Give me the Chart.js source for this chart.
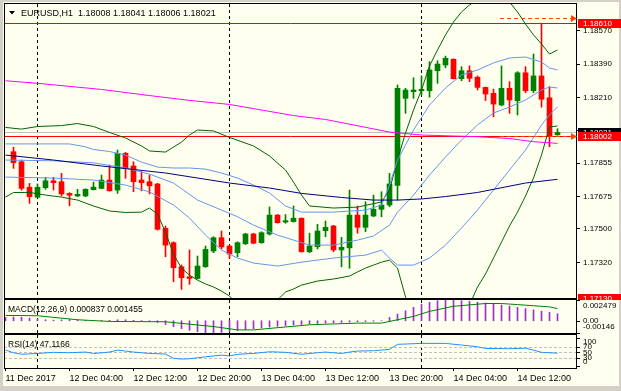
<!DOCTYPE html>
<html>
<head>
<meta charset="utf-8">
<title>EURUSD,H1</title>
<script src="https://cdn.jsdelivr.net/npm/chart.js@4.4.1/dist/chart.umd.min.js"></script>
<style>
  html, body { margin: 0; padding: 0; }
  body { width: 621px; height: 391px; background: #d4d0c8; position: relative; overflow: hidden; }
  #win { position: absolute; left: 3px; top: 2px; width: 616px; height: 384px; background: #fffff0; }
  canvas { position: absolute; left: 0; }
</style>
</head>
<body>
<div id="win"></div>
<canvas id="priceChart" width="621" height="300" style="top:0"></canvas>
<canvas id="macdChart" width="621" height="40" style="top:296px"></canvas>
<canvas id="rsiChart" width="621" height="60" style="top:331px"></canvas>
<script>
const FONT = '"Liberation Sans", Arial, sans-serif';

// H1 candles, bar 0 = 11 Dec 21:00, bar 68 = 14 Dec 17:00
const opens = [1.17917, 1.17863, 1.17725, 1.17671, 1.17723, 1.17760, 1.17755, 1.17692, 1.17678, 1.17678,
  1.17712, 1.17719, 1.17764, 1.17710, 1.17908, 1.17840, 1.17764, 1.17755, 1.17743, 1.17503,
  1.17426, 1.17296, 1.17242, 1.17233, 1.17296, 1.17381, 1.17453, 1.17408, 1.17372, 1.17420,
  1.17473, 1.17426, 1.17473, 1.17575, 1.17537, 1.17540, 1.17558, 1.17377, 1.17404, 1.17491,
  1.17516, 1.17387, 1.17398, 1.17575, 1.17509, 1.17570, 1.17606, 1.17629, 1.17735, 1.18205,
  1.18241, 1.18246, 1.18246, 1.18354, 1.18385, 1.18416, 1.18311, 1.18354, 1.18319, 1.18264,
  1.18232, 1.18169, 1.18259, 1.18192, 1.18343, 1.18246, 1.18326, 1.18208, 1.18008];
const highs = [1.17941, 1.17872, 1.17746, 1.17743, 1.17779, 1.17779, 1.17800, 1.17696, 1.17714, 1.17717,
  1.17753, 1.17791, 1.17845, 1.17926, 1.17914, 1.17863, 1.17809, 1.17791, 1.17746, 1.17516,
  1.17431, 1.17306, 1.17387, 1.17354, 1.17408, 1.17458, 1.17489, 1.17413, 1.17431, 1.17477,
  1.17477, 1.17485, 1.17619, 1.17578, 1.17578, 1.17624, 1.17560, 1.17477, 1.17525, 1.17543,
  1.17520, 1.17455, 1.17710, 1.17624, 1.17647, 1.17683, 1.17701, 1.17800, 1.18277, 1.18259,
  1.18316, 1.18326, 1.18403, 1.18408, 1.18433, 1.18418, 1.18376, 1.18380, 1.18326, 1.18266,
  1.18255, 1.18380, 1.18295, 1.18349, 1.18376, 1.18444, 1.18610, 1.18268, 1.18041];
const lows = [1.17827, 1.17710, 1.17638, 1.17668, 1.17714, 1.17710, 1.17678, 1.17625, 1.17674, 1.17674,
  1.17710, 1.17717, 1.17704, 1.17692, 1.17773, 1.17701, 1.17706, 1.17689, 1.17494, 1.17350,
  1.17215, 1.17174, 1.17201, 1.17230, 1.17293, 1.17372, 1.17392, 1.17341, 1.17350, 1.17416,
  1.17420, 1.17423, 1.17467, 1.17531, 1.17531, 1.17537, 1.17375, 1.17372, 1.17392, 1.17458,
  1.17377, 1.17296, 1.17288, 1.17477, 1.17485, 1.17566, 1.17566, 1.17620, 1.17656, 1.18124,
  1.18205, 1.18223, 1.18211, 1.18286, 1.18370, 1.18309, 1.18300, 1.18295, 1.18250, 1.18193,
  1.18106, 1.18164, 1.18124, 1.18115, 1.18235, 1.18235, 1.18157, 1.17944, 1.18006];
const closes = [1.17858, 1.17719, 1.17674, 1.17725, 1.17760, 1.17750, 1.17689, 1.17682, 1.17687, 1.17714,
  1.17726, 1.17764, 1.17706, 1.17908, 1.17827, 1.17755, 1.17750, 1.17733, 1.17498, 1.17413,
  1.17291, 1.17237, 1.17233, 1.17300, 1.17390, 1.17453, 1.17403, 1.17365, 1.17426, 1.17473,
  1.17423, 1.17480, 1.17575, 1.17534, 1.17545, 1.17558, 1.17377, 1.17408, 1.17489, 1.17509,
  1.17387, 1.17401, 1.17575, 1.17509, 1.17575, 1.17606, 1.17629, 1.17743, 1.18259, 1.18250,
  1.18250, 1.18254, 1.18358, 1.18390, 1.18421, 1.18311, 1.18354, 1.18313, 1.18264, 1.18228,
  1.18174, 1.18259, 1.18196, 1.18343, 1.18246, 1.18326, 1.18200, 1.18000, 1.18021];

// indicator lines on the price chart, [bar, price]
const bandOuterUpper = [[-1, 1.18048], [1, 1.18039], [3, 1.18053], [6, 1.18058], [8, 1.18069], [10, 1.18053],
  [12, 1.18021], [14, 1.17991], [16, 1.17948], [17, 1.17921], [19, 1.17915], [21, 1.17969], [22, 1.18007],
  [23, 1.18034], [25, 1.18029], [27, 1.17994], [30, 1.17948], [32, 1.17894], [34, 1.17818], [35, 1.17753],
  [36, 1.17683], [37, 1.17624], [40, 1.17613], [43, 1.17618], [46, 1.17646], [47, 1.17710], [48, 1.17872],
  [49, 1.18018], [50, 1.18142], [51, 1.18250], [52, 1.18380], [53, 1.18466], [54, 1.18547], [55, 1.18617],
  [56, 1.18671], [57, 1.18709], [58, 1.18736], [59, 1.18757], [60, 1.18763], [61, 1.18752], [62, 1.18725],
  [63, 1.18671], [64, 1.18606], [65, 1.18547], [66, 1.18498], [67, 1.18444], [68, 1.18466]];
const bandOuterLower = [[-1, 1.17672], [0, 1.17697], [2, 1.17697], [4, 1.17683], [6, 1.17672], [8, 1.17656],
  [10, 1.17624], [12, 1.17597], [14, 1.17589], [16, 1.17591], [17, 1.17613], [18, 1.17580], [19, 1.17483],
  [20, 1.17364], [21, 1.17289], [22, 1.17251], [23, 1.17224], [24, 1.17203], [25, 1.17187], [26, 1.17165],
  [27, 1.17138], [28, 1.17090], [30, 1.17063], [32, 1.17090], [33, 1.17117], [34, 1.17160], [35, 1.17176],
  [36, 1.17197], [38, 1.17219], [40, 1.17230], [42, 1.17246], [43, 1.17268], [44, 1.17289], [45, 1.17305],
  [46, 1.17321], [47, 1.17332], [48, 1.17289], [49, 1.17133], [50, 1.17009], [55, 1.16955], [57, 1.17090],
  [58, 1.17187], [59, 1.17257], [60, 1.17343], [61, 1.17429], [62, 1.17516], [63, 1.17591], [64, 1.17678],
  [65, 1.17775], [66, 1.17899], [67, 1.18050], [68, 1.18056]];
const bandInnerUpper = [[-1, 1.17959], [3, 1.17959], [7, 1.17959], [9, 1.17943], [10, 1.17929], [12, 1.17918],
  [14, 1.17899], [16, 1.17861], [18, 1.17834], [20, 1.17829], [22, 1.17829], [24, 1.17823], [26, 1.17802],
  [28, 1.17775], [30, 1.17737], [32, 1.17694], [34, 1.17624], [36, 1.17591], [40, 1.17591], [44, 1.17602],
  [46, 1.17629], [47, 1.17737], [48, 1.17872], [49, 1.17953], [50, 1.18034], [52, 1.18169], [54, 1.18261],
  [56, 1.18331], [58, 1.18358], [60, 1.18396], [62, 1.18423], [64, 1.18428], [66, 1.18401], [67, 1.18369],
  [68, 1.18358]];
const bandMiddle = [[-1, 1.17872], [5, 1.17868], [10, 1.17857], [14, 1.17829], [17, 1.17796], [20, 1.17748],
  [23, 1.17656], [26, 1.17602], [28, 1.17566], [30, 1.17521], [33, 1.17467], [35, 1.17440], [37, 1.17413],
  [40, 1.17413], [43, 1.17440], [45, 1.17462], [47, 1.17521], [48, 1.17591], [50, 1.17683], [52, 1.17791],
  [54, 1.17888], [56, 1.17980], [58, 1.18061], [60, 1.18126], [62, 1.18158], [64, 1.18196], [66, 1.18250],
  [67, 1.18266], [68, 1.18261]];
const bandInnerLower = [[-1, 1.17780], [5, 1.17775], [10, 1.17764], [14, 1.17737], [17, 1.17700], [20, 1.17629],
  [22, 1.17559], [24, 1.17467], [26, 1.17386], [28, 1.17343], [30, 1.17316], [33, 1.17300], [36, 1.17321],
  [38, 1.17332], [40, 1.17343], [44, 1.17359], [46, 1.17386], [47, 1.17343], [48, 1.17305], [50, 1.17305],
  [52, 1.17343], [54, 1.17413], [56, 1.17505], [58, 1.17602], [60, 1.17710], [62, 1.17818], [64, 1.17926],
  [66, 1.18061], [67, 1.18115], [68, 1.18159]];
const maNavy = [[-1, 1.17899], [5, 1.17872], [11, 1.17840], [19, 1.17802], [27, 1.17748], [32, 1.17721],
  [36, 1.17692], [41, 1.17670], [45, 1.17656], [48, 1.17656], [51, 1.17662], [54, 1.17675], [58, 1.17697],
  [64, 1.17748], [68, 1.17768]];
const maMagenta = [[-1, 1.18300], [3, 1.18286], [11, 1.18253], [17, 1.18220], [22, 1.18194], [27, 1.18172],
  [35, 1.18112], [39, 1.18091], [47, 1.18023], [51, 1.18007], [58, 1.17998], [62, 1.17988], [65, 1.17971],
  [68, 1.17962]];

const priceTicks = [1.17320, 1.17500, 1.17675, 1.17855, 1.18032, 1.18210, 1.18390, 1.18570];
const levelLines = [1.18610, 1.18002, 1.17130];
const bidPrice = 1.18021;
const alertLevels = [1.18640, 1.18002];

// MACD(12,26,9): histogram for bars -1..68, signal as [bar, value]
const macdHist = [0.00040, 0.00045, 0.00042, 0.00032, 0.00022,
  0.00012, 0.00008, 0.00010, 0.00014, 0.00010, 0.00006, 0.00004, 0.00004, 0.00006, 0.00012, 0.00012, 0.00006, 0.00002, -0.00004,
  -0.00020, -0.00045, -0.00070, -0.00095, -0.00115, -0.00130, -0.00142, -0.00146, -0.00140, -0.00128, -0.00115, -0.00105,
  -0.00095, -0.00085, -0.00075, -0.00066, -0.00058, -0.00050, -0.00044, -0.00038, -0.00032, -0.00027, -0.00023, -0.00020,
  -0.00016, -0.00012, -0.00010, -0.00006, -0.00002,
  0.00040, 0.00080, 0.00120, 0.00160, 0.00195, 0.00220, 0.00240, 0.00248, 0.00246, 0.00240, 0.00232, 0.00222,
  0.00212, 0.00200, 0.00188, 0.00175, 0.00160, 0.00145, 0.00130, 0.00115, 0.00100, 0.000837];
const macdSignal = [[-1, 0.00064], [3, 0.00060], [8, 0.00012], [12, -0.00008], [19, -0.00012], [25, -0.00069],
  [28, -0.00109], [30, -0.00109], [37, -0.00048], [43, -0.00028], [46, -0.00028], [48, 0.00012], [50, 0.00052],
  [52, 0.00112], [55, 0.00173], [59, 0.00206], [61, 0.00206], [63, 0.00193], [67, 0.00166], [68, 0.001455]];
const macdTicks = [0.002479, 0, -0.00146];

// RSI(14), [bar, value]
const rsiLine = [[-1, 58], [0, 48.6], [1, 43], [3, 46], [5, 50], [7, 48.6], [9, 51], [10, 46], [12, 51], [13, 58],
  [14, 54.6], [15, 51], [17, 46], [19, 44], [20, 28.6], [21, 26], [22, 27], [24, 34], [26, 40], [27, 37], [28, 43],
  [30, 46], [32, 52], [34, 50], [36, 43], [38, 48.6], [39, 51], [41, 46], [42, 51], [43, 54.6], [45, 55.7],
  [47, 60.7], [48, 78.6], [51, 82], [54, 82], [56, 76], [58, 70], [59, 64], [62, 63], [64, 65], [65, 58],
  [66, 50], [68, 47.1166]];
const rsiLevels = [30, 50, 70];
const rsiTicks = [100, 70, 50, 30, 0];

const daySeparatorBars = [3, 27, 51];
const timeTickBars = [-1, 7, 15, 23, 31, 39, 47, 55, 63];
const timeTickLabels = ['11 Dec 2017', '12 Dec 04:00', '12 Dec 12:00', '12 Dec 20:00', '13 Dec 04:00',
  '13 Dec 12:00', '13 Dec 20:00', '14 Dec 04:00', '14 Dec 12:00'];

// ---------------------------------------------------------------
const X_MIN = -1.1875, X_MAX = 70.4375;
const UP = '#008000', DOWN = '#ff0000';
const last = opens.length - 1;
const candleColors = opens.map((o, i) => (closes[i] >= o ? UP : DOWN));
const toXY = pts => pts.map(([b, v]) => ({ x: b, y: v }));

function lineDs(pts, color) {
  return { type: 'line', data: toXY(pts), borderColor: color, borderWidth: 1, pointRadius: 0, tension: 0, fill: false, order: 1 };
}

function frameRect(ctx, a) {
  ctx.strokeStyle = '#000';
  ctx.lineWidth = 1;
  ctx.strokeRect(a.left + 0.5, a.top - 0.5, a.right - a.left - 1, a.bottom - a.top + 1);
}

// dashed day separators, shared by all three panels
const separators = {
  id: 'separators',
  beforeDatasetsDraw(chart) {
    const { ctx, chartArea: a, scales: { x } } = chart;
    ctx.save();
    ctx.strokeStyle = '#000';
    ctx.lineWidth = 1;
    ctx.setLineDash([3, 3]);
    daySeparatorBars.forEach(b => {
      const px = Math.floor(x.getPixelForValue(b)) + 0.5;
      ctx.beginPath();
      ctx.moveTo(px, a.top);
      ctx.lineTo(px, a.bottom);
      ctx.stroke();
    });
    ctx.restore();
  },
  afterDraw(chart) {
    chart.ctx.save();
    frameRect(chart.ctx, chart.chartArea);
    chart.ctx.restore();
  }
};

const mainDecor = {
  id: 'mainDecor',
  beforeDatasetsDraw(chart) {
    const { ctx, chartArea: a, scales: { y } } = chart;
    ctx.save();
    ctx.lineWidth = 1;
    ctx.strokeStyle = '#c0c0c0';
    let py = Math.round(y.getPixelForValue(bidPrice)) + 0.5;
    ctx.beginPath(); ctx.moveTo(a.left, py); ctx.lineTo(a.right, py); ctx.stroke();
    ctx.strokeStyle = '#ff0000';
    levelLines.forEach(v => {
      py = Math.round(y.getPixelForValue(v)) + 0.5;
      ctx.beginPath(); ctx.moveTo(a.left, py); ctx.lineTo(a.right, py); ctx.stroke();
    });
    ctx.restore();
  },
  afterDraw(chart) {
    const { ctx, chartArea: a, scales: { y } } = chart;
    ctx.save();
    // alert arrows
    ctx.strokeStyle = '#ff4500';
    ctx.fillStyle = '#ff4500';
    ctx.lineWidth = 1;
    alertLevels.forEach(v => {
      const py = Math.round(y.getPixelForValue(v)) + 0.5;
      ctx.setLineDash([4, 3]);
      ctx.beginPath(); ctx.moveTo(500, py); ctx.lineTo(a.right - 5, py); ctx.stroke();
      ctx.setLineDash([]);
      ctx.beginPath(); ctx.moveTo(a.right - 6, py - 3.5); ctx.lineTo(a.right, py); ctx.lineTo(a.right - 6, py + 3.5); ctx.fill();
    });
    // price boxes on the right
    const boxes = [
      { v: levelLines[0], bg: '#ff0000' },
      { v: bidPrice, bg: '#000000' },
      { v: levelLines[1], bg: '#ff0000' },
      { v: levelLines[2], bg: '#ff0000' }
    ];
    ctx.font = '8px ' + FONT;
    ctx.textBaseline = 'middle';
    boxes.forEach(b => {
      const py = Math.round(y.getPixelForValue(b.v));
      ctx.fillStyle = b.bg;
      ctx.fillRect(a.right + 1, py - 4, 43, 9);
      ctx.fillStyle = '#ffffff';
      ctx.fillText(b.v.toFixed(5), a.right + 6, py + 0.5);
    });
    // header
    ctx.fillStyle = '#000';
    ctx.beginPath(); ctx.moveTo(9, 11); ctx.lineTo(15, 11); ctx.lineTo(12, 14.5); ctx.fill();
    ctx.font = '9px ' + FONT;
    ctx.textBaseline = 'alphabetic';
    const ohlc = [opens[last], highs[last], lows[last], closes[last]].map(v => v.toFixed(5)).join(' ');
    ctx.fillText('EURUSD,H1  ' + ohlc, 21, 16);
    ctx.restore();
  }
};

// right-hand labels and levels for the indicator windows
const sideLabels = {
  id: 'sideLabels',
  beforeDatasetsDraw(chart, args, opts) {
    const { ctx, chartArea: a, scales: { y } } = chart;
    if (!opts.levels) return;
    ctx.save();
    ctx.strokeStyle = '#c0c0c0';
    ctx.lineWidth = 1;
    ctx.setLineDash([3, 2]);
    opts.levels.forEach(v => {
      const py = Math.round(y.getPixelForValue(v)) + 0.5;
      ctx.beginPath(); ctx.moveTo(a.left, py); ctx.lineTo(a.right, py); ctx.stroke();
    });
    ctx.restore();
  },
  afterDraw(chart, args, opts) {
    const { ctx, chartArea: a, scales: { y } } = chart;
    ctx.save();
    ctx.font = '8px ' + FONT;
    ctx.fillStyle = '#000';
    ctx.textBaseline = 'middle';
    (opts.items || []).forEach(it => {
      const py = y.getPixelForValue(it.value);
      ctx.fillRect(a.right, Math.round(py), 3, 1);
      ctx.fillText(it.text, a.right + 6, py + it.shift);
    });
    if (opts.title) {
      ctx.font = '8.5px ' + FONT;
      ctx.textBaseline = 'alphabetic';
      ctx.fillText(opts.title, 8, a.top + 11.5);
    }
    ctx.restore();
  }
};

Chart.defaults.font.family = FONT;
Chart.defaults.color = '#000';

const baseOptions = {
  responsive: false,
  animation: false,
  events: [],
  plugins: { legend: { display: false }, tooltip: { enabled: false } }
};

// ---- price window ----
new Chart(document.getElementById('priceChart'), {
  type: 'bar',
  data: {
    datasets: [
      { data: opens.map((o, i) => ({ x: i, y: [lows[i], highs[i]] })), backgroundColor: candleColors,
        barThickness: 1, grouped: false, order: 11 },
      { data: opens.map((o, i) => ({ x: i, y: [o, closes[i]] })), backgroundColor: candleColors,
        barThickness: 5, grouped: false, minBarLength: 1, order: 10 },
      lineDs(maMagenta, '#ff00ff'),
      lineDs(maNavy, '#000080'),
      lineDs(bandInnerUpper, '#6495ed'),
      lineDs(bandMiddle, '#6495ed'),
      lineDs(bandInnerLower, '#6495ed'),
      lineDs(bandOuterUpper, '#006400'),
      lineDs(bandOuterLower, '#006400')
    ]
  },
  options: {
    ...baseOptions,
    layout: { padding: { left: 4, top: 4, right: 0, bottom: 2 } },
    scales: {
      x: { type: 'linear', min: X_MIN, max: X_MAX, offset: false, display: false },
      y: {
        position: 'right', min: 1.171275, max: 1.187141,
        afterBuildTicks: s => { s.ticks = priceTicks.map(v => ({ value: v })); },
        afterFit: s => { s.width = 44; s.paddingTop = 0; s.paddingBottom = 0; },
        grid: { drawOnChartArea: false, drawTicks: true, tickLength: 3, color: '#000' },
        border: { display: false },
        ticks: { padding: 3, font: { size: 8 }, callback: v => v.toFixed(5) }
      }
    }
  },
  plugins: [separators, mainDecor]
});

// ---- MACD window ----
new Chart(document.getElementById('macdChart'), {
  type: 'bar',
  data: {
    datasets: [
      { data: macdHist.map((v, i) => ({ x: i - 1, y: v })), backgroundColor: '#9932cc', barThickness: 1, order: 5 },
      { type: 'line', data: toXY(macdSignal), borderColor: '#008000', borderWidth: 1, pointRadius: 0, tension: 0, order: 1 }
    ]
  },
  options: {
    ...baseOptions,
    layout: { padding: { left: 4, top: 4, right: 44, bottom: 3 } },
    plugins: {
      ...baseOptions.plugins,
      sideLabels: {
        title: 'MACD(12,26,9) ' + macdHist[macdHist.length - 1].toFixed(6) + ' ' + macdSignal[macdSignal.length - 1][1].toFixed(6),
        items: [
          { value: macdTicks[0], text: macdTicks[0].toFixed(6), shift: 5.5 },
          { value: macdTicks[1], text: '0.00', shift: 0 },
          { value: macdTicks[2], text: macdTicks[2].toFixed(5), shift: -6 }
        ]
      }
    },
    scales: {
      x: { type: 'linear', min: X_MIN, max: X_MAX, offset: false, display: false },
      y: { min: macdTicks[2], max: macdTicks[0], display: false }
    }
  },
  plugins: [separators, sideLabels]
});

// ---- RSI window + time axis ----
new Chart(document.getElementById('rsiChart'), {
  type: 'line',
  data: {
    datasets: [
      { data: toXY(rsiLine), borderColor: '#1e90ff', borderWidth: 1, pointRadius: 0, tension: 0 }
    ]
  },
  options: {
    ...baseOptions,
    layout: { padding: { left: 4, top: 4, right: 44, bottom: 0 } },
    plugins: {
      ...baseOptions.plugins,
      sideLabels: {
        title: 'RSI(14) ' + rsiLine[rsiLine.length - 1][1].toFixed(4),
        levels: rsiLevels,
        items: [
          { value: rsiTicks[0], text: '100', shift: 3.5 },
          { value: rsiTicks[1], text: '70', shift: 0 },
          { value: rsiTicks[2], text: '50', shift: 0 },
          { value: rsiTicks[3], text: '30', shift: 0 },
          { value: rsiTicks[4], text: '0', shift: -4.5 }
        ]
      }
    },
    scales: {
      x: {
        type: 'linear', min: X_MIN, max: X_MAX, offset: false, position: 'bottom',
        afterBuildTicks: s => { s.ticks = timeTickBars.map(b => ({ value: b })); },
        afterFit: s => { s.height = 23; s.paddingLeft = 0; s.paddingRight = 0; },
        grid: { drawOnChartArea: false, drawTicks: true, tickLength: 3, color: '#000' },
        border: { display: false },
        ticks: {
          autoSkip: false, maxRotation: 0, align: 'start', padding: 2, font: { size: 9 },
          callback: v => timeTickLabels[timeTickBars.indexOf(v)]
        }
      },
      y: { min: -6, max: 112, display: false }
    }
  },
  plugins: [separators, sideLabels]
});
</script>
</body>
</html>
